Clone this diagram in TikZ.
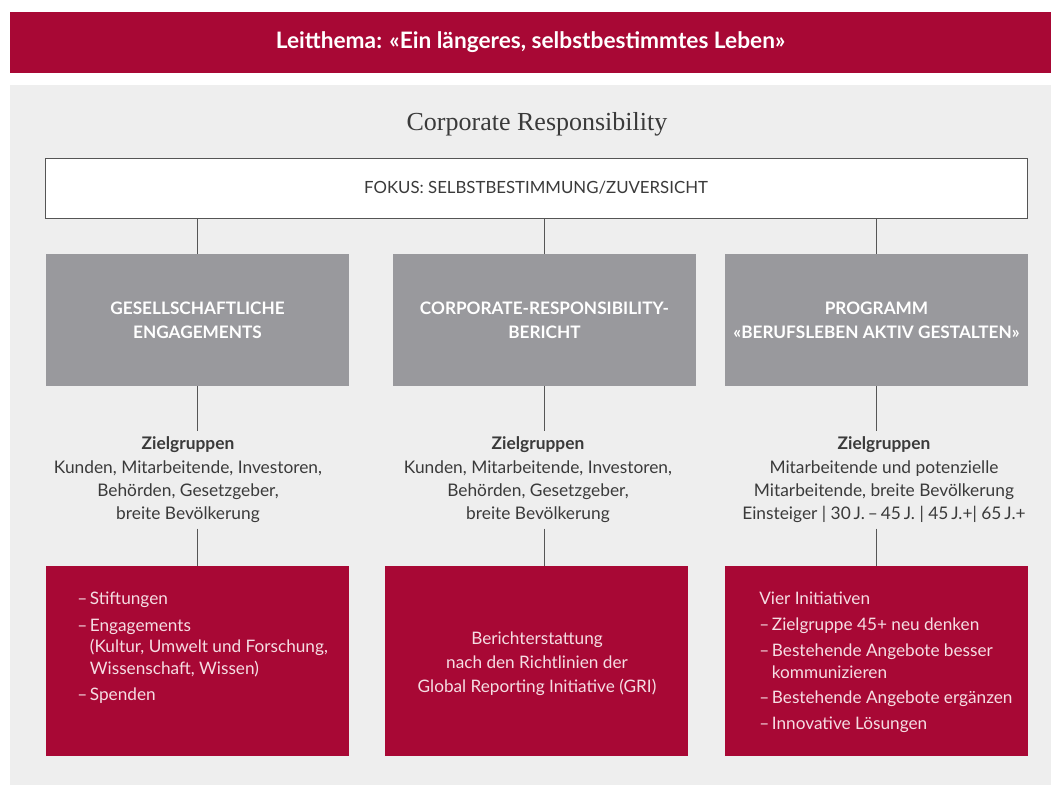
\documentclass[tikz,border=0pt]{standalone}
\usepackage{fontspec}
\setmainfont{Lato}
\newfontfamily\headserif{Liberation Serif}
\definecolor{crimson}{HTML}{A80835}
\definecolor{panelgray}{HTML}{EEEEEE}
\definecolor{boxgray}{HTML}{99999D}
\definecolor{inkgray}{HTML}{3A3A3A}
\definecolor{linkgray}{HTML}{555555}
\definecolor{paletext}{HTML}{F5DDE3}
\def\pxu{0.75pt}
\newcommand\itm{\makebox[9.5pt][l]{–}}
\newcommand\cont{\hspace*{9.5pt}}
\begin{document}
\begin{tikzpicture}[x=0.75pt,y=-0.75pt,
  band/.style={fill=crimson,text=white,inner sep=0,minimum width=1041*\pxu,minimum height=61*\pxu,font=\bfseries\fontsize{17}{20}\selectfont},
  fokusbox/.style={fill=white,draw=linkgray,line width=0.6pt,inner sep=0,minimum width=982*\pxu,minimum height=60*\pxu,text=inkgray,font=\fontsize{12.6}{15}\selectfont},
  catbox/.style={fill=boxgray,text=white,inner sep=0,minimum width=303*\pxu,minimum height=132*\pxu,align=center,font=\bfseries\fontsize{12.9}{18}\selectfont},
  redbox/.style={fill=crimson,inner sep=0,minimum width=303*\pxu,minimum height=190*\pxu},
  groups/.style={text=inkgray,align=center,inner sep=4pt,font=\fontsize{13}{17.5}\selectfont},
  redtext/.style={text=paletext,inner sep=0,font=\fontsize{12.9}{16.1}\selectfont},
  link/.style={draw=linkgray,line width=0.6pt}
]
\useasboundingbox (0,0) rectangle (1051,785);
% backgrounds
\fill[panelgray] (10,85) rectangle (1051,785);
\node[band] (theme) at (530.5,42.5) {Leitthema: «Ein längeres, selbstbestimmtes Leben»};
\node[text=inkgray,font=\headserif\fontsize{19.5}{22}\selectfont] (title) at (537,124) {Corporate Responsibility};
\node[fokusbox] (fokus) at (536,188) {FOKUS: SELBSTBESTIMMUNG/ZUVERSICHT};

% category boxes
\node[catbox] (cat1) at (197.5,320) {\raisebox{-1.5pt}{GESELLSCHAFTLICHE}\\\raisebox{-1.5pt}{ENGAGEMENTS}};
\node[catbox] (cat2) at (544.5,320) {\raisebox{-1.5pt}{CORPORATE-RESPONSIBILITY-}\\\raisebox{-1.5pt}{BERICHT}};
\node[catbox] (cat3) at (876.5,320) {\raisebox{-1.5pt}{PROGRAMM}\\\raisebox{-1.5pt}{«BERUFSLEBEN AKTIV GESTALTEN»}};

% target groups
\node[groups] (zg1) at (188,480) {\textbf{Zielgruppen}\\Kunden, Mitarbeitende, Investoren,\\Behörden, Gesetzgeber,\\breite Bevölkerung};
\node[groups] (zg2) at (538,480) {\textbf{Zielgruppen}\\Kunden, Mitarbeitende, Investoren,\\Behörden, Gesetzgeber,\\breite Bevölkerung};
\node[groups] (zg3) at (884,480) {\textbf{Zielgruppen}\\Mitarbeitende und potenzielle\\Mitarbeitende, breite Bevölkerung\\Einsteiger | 30\,J.\,–\,45\,J. | 45\,J.+| 65\,J.+};

% measures
\node[redbox] (red1) at (197.5,661) {};
\node[redbox] (red2) at (536.5,661) {};
\node[redbox] (red3) at (876.5,661) {};

\node[redtext,anchor=north west,align=left] (red1txt) at (77,592)
  {\itm Stiftungen\\[3.6pt]\itm Engagements\\\cont(Kultur, Umwelt und Forschung,\\\cont Wissenschaft, Wissen)\\[3.6pt]\itm Spenden};
\node[redtext,align=center,font=\fontsize{12.9}{18}\selectfont] (red2txt) at (537,664)
  {Berichterstattung\\nach den Richtlinien der\\Global Reporting Initiative (GRI)};
\node[redtext,anchor=north west,align=left] (red3txt) at (759,592)
  {Vier Initiativen\\[3.3pt]\itm Zielgruppe 45+ neu denken\\[3.3pt]\itm Bestehende Angebote besser\\\cont kommunizieren\\[3.3pt]\itm Bestehende Angebote ergänzen\\[3.3pt]\itm Innovative Lösungen};

% connectors
\foreach \c in {1,2,3}{
  \draw[link] (fokus.south -| cat\c.north) -- (cat\c.north);
  \draw[link] (cat\c.south) -- (cat\c.south |- zg\c.north);
  \draw[link] (cat\c.south |- zg\c.south) -- (cat\c.south |- red\c.north);
}
\end{tikzpicture}
\end{document}
